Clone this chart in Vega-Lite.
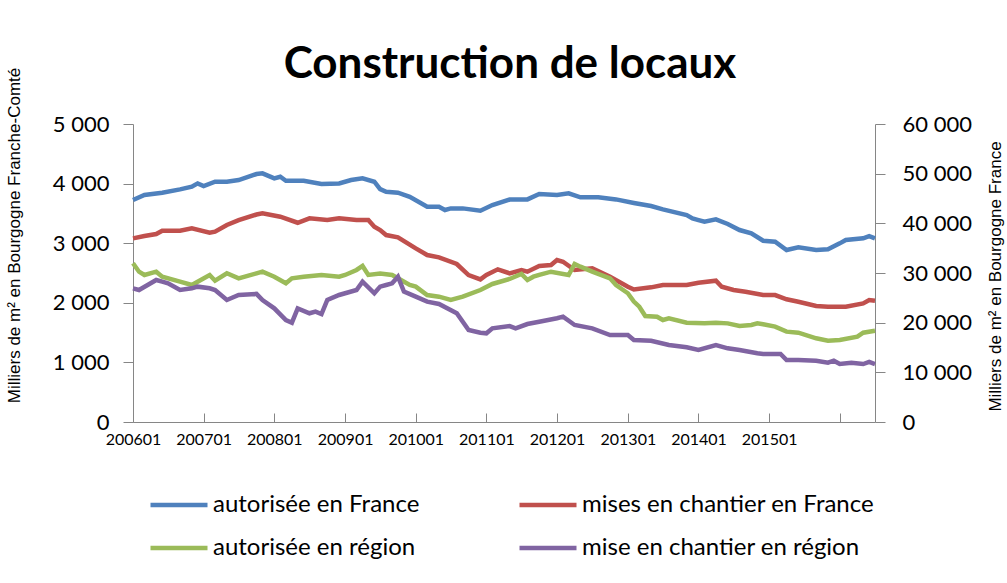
{
  "$schema": "https://vega.github.io/schema/vega-lite/v6.json",
  "width": 742,
  "height": 298,
  "autosize": {"type": "none"},
  "padding": {"left": 133, "top": 124, "right": 132, "bottom": 161},
  "background": "white",
  "title": {"text": "Construction de locaux", "font": "Lato", "fontSize": 44, "fontWeight": "bold", "color": "#000000", "anchor": "middle", "offset": 36, "dy": 56, "dx": 6},
  "config": {"view": {"stroke": null}},
  "data": {
    "format": {"parse": {"mois": "utc:'%Y-%m'"}},
    "values": [
      {"mois": "2006-01", "serie": "autorisée en France", "valeur": 44690},
      {"mois": "2006-03", "serie": "autorisée en France", "valeur": 45700},
      {"mois": "2006-06", "serie": "autorisée en France", "valeur": 46160},
      {"mois": "2006-09", "serie": "autorisée en France", "valeur": 46840},
      {"mois": "2006-11", "serie": "autorisée en France", "valeur": 47370},
      {"mois": "2006-12", "serie": "autorisée en France", "valeur": 48040},
      {"mois": "2007-01", "serie": "autorisée en France", "valeur": 47500},
      {"mois": "2007-03", "serie": "autorisée en France", "valeur": 48380},
      {"mois": "2007-05", "serie": "autorisée en France", "valeur": 48380},
      {"mois": "2007-07", "serie": "autorisée en France", "valeur": 48710},
      {"mois": "2007-10", "serie": "autorisée en France", "valeur": 49920},
      {"mois": "2007-11", "serie": "autorisée en France", "valeur": 50060},
      {"mois": "2008-01", "serie": "autorisée en France", "valeur": 49050},
      {"mois": "2008-02", "serie": "autorisée en France", "valeur": 49380},
      {"mois": "2008-03", "serie": "autorisée en France", "valeur": 48580},
      {"mois": "2008-06", "serie": "autorisée en France", "valeur": 48580},
      {"mois": "2008-09", "serie": "autorisée en France", "valeur": 47910},
      {"mois": "2008-12", "serie": "autorisée en France", "valeur": 48040},
      {"mois": "2009-02", "serie": "autorisée en France", "valeur": 48710},
      {"mois": "2009-04", "serie": "autorisée en France", "valeur": 49050},
      {"mois": "2009-06", "serie": "autorisée en France", "valeur": 48380},
      {"mois": "2009-07", "serie": "autorisée en France", "valeur": 46900},
      {"mois": "2009-08", "serie": "autorisée en France", "valeur": 46360},
      {"mois": "2009-10", "serie": "autorisée en France", "valeur": 46160},
      {"mois": "2009-12", "serie": "autorisée en France", "valeur": 45350},
      {"mois": "2010-03", "serie": "autorisée en France", "valeur": 43340},
      {"mois": "2010-05", "serie": "autorisée en France", "valeur": 43340},
      {"mois": "2010-06", "serie": "autorisée en France", "valeur": 42680},
      {"mois": "2010-07", "serie": "autorisée en France", "valeur": 43010},
      {"mois": "2010-09", "serie": "autorisée en France", "valeur": 43010},
      {"mois": "2010-12", "serie": "autorisée en France", "valeur": 42540},
      {"mois": "2011-02", "serie": "autorisée en France", "valeur": 43680},
      {"mois": "2011-05", "serie": "autorisée en France", "valeur": 44800},
      {"mois": "2011-08", "serie": "autorisée en France", "valeur": 44820},
      {"mois": "2011-10", "serie": "autorisée en France", "valeur": 45900},
      {"mois": "2012-01", "serie": "autorisée en France", "valeur": 45700},
      {"mois": "2012-03", "serie": "autorisée en France", "valeur": 46030},
      {"mois": "2012-05", "serie": "autorisée en France", "valeur": 45230},
      {"mois": "2012-08", "serie": "autorisée en France", "valeur": 45230},
      {"mois": "2012-11", "serie": "autorisée en France", "valeur": 44820},
      {"mois": "2013-02", "serie": "autorisée en France", "valeur": 44100},
      {"mois": "2013-05", "serie": "autorisée en France", "valeur": 43480},
      {"mois": "2013-07", "serie": "autorisée en France", "valeur": 42810},
      {"mois": "2013-11", "serie": "autorisée en France", "valeur": 41670},
      {"mois": "2013-12", "serie": "autorisée en France", "valeur": 41000},
      {"mois": "2014-01", "serie": "autorisée en France", "valeur": 40660},
      {"mois": "2014-02", "serie": "autorisée en France", "valeur": 40320},
      {"mois": "2014-04", "serie": "autorisée en France", "valeur": 40800},
      {"mois": "2014-06", "serie": "autorisée en France", "valeur": 39860},
      {"mois": "2014-08", "serie": "autorisée en France", "valeur": 38650},
      {"mois": "2014-10", "serie": "autorisée en France", "valeur": 37980},
      {"mois": "2014-12", "serie": "autorisée en France", "valeur": 36500},
      {"mois": "2015-02", "serie": "autorisée en France", "valeur": 36300},
      {"mois": "2015-04", "serie": "autorisée en France", "valeur": 34620},
      {"mois": "2015-06", "serie": "autorisée en France", "valeur": 35160},
      {"mois": "2015-09", "serie": "autorisée en France", "valeur": 34620},
      {"mois": "2015-11", "serie": "autorisée en France", "valeur": 34760},
      {"mois": "2016-01", "serie": "autorisée en France", "valeur": 35970},
      {"mois": "2016-02", "serie": "autorisée en France", "valeur": 36640},
      {"mois": "2016-05", "serie": "autorisée en France", "valeur": 36980},
      {"mois": "2016-06", "serie": "autorisée en France", "valeur": 37440},
      {"mois": "2016-07", "serie": "autorisée en France", "valeur": 36980},

      {"mois": "2006-01", "serie": "mises en chantier en France", "valeur": 36980},
      {"mois": "2006-03", "serie": "mises en chantier en France", "valeur": 37440},
      {"mois": "2006-05", "serie": "mises en chantier en France", "valeur": 37840},
      {"mois": "2006-06", "serie": "mises en chantier en France", "valeur": 38510},
      {"mois": "2006-09", "serie": "mises en chantier en France", "valeur": 38510},
      {"mois": "2006-11", "serie": "mises en chantier en France", "valeur": 38990},
      {"mois": "2007-02", "serie": "mises en chantier en France", "valeur": 38110},
      {"mois": "2007-03", "serie": "mises en chantier en France", "valeur": 38310},
      {"mois": "2007-05", "serie": "mises en chantier en France", "valeur": 39660},
      {"mois": "2007-07", "serie": "mises en chantier en France", "valeur": 40660},
      {"mois": "2007-10", "serie": "mises en chantier en France", "valeur": 41770},
      {"mois": "2007-11", "serie": "mises en chantier en France", "valeur": 42010},
      {"mois": "2008-02", "serie": "mises en chantier en France", "valeur": 41330},
      {"mois": "2008-05", "serie": "mises en chantier en France", "valeur": 40120},
      {"mois": "2008-07", "serie": "mises en chantier en France", "valeur": 41000},
      {"mois": "2008-10", "serie": "mises en chantier en France", "valeur": 40660},
      {"mois": "2008-12", "serie": "mises en chantier en France", "valeur": 41000},
      {"mois": "2009-03", "serie": "mises en chantier en France", "valeur": 40660},
      {"mois": "2009-05", "serie": "mises en chantier en France", "valeur": 40660},
      {"mois": "2009-06", "serie": "mises en chantier en France", "valeur": 39320},
      {"mois": "2009-07", "serie": "mises en chantier en France", "valeur": 38650},
      {"mois": "2009-08", "serie": "mises en chantier en France", "valeur": 37640},
      {"mois": "2009-10", "serie": "mises en chantier en France", "valeur": 37180},
      {"mois": "2010-01", "serie": "mises en chantier en France", "valeur": 34960},
      {"mois": "2010-03", "serie": "mises en chantier en France", "valeur": 33620},
      {"mois": "2010-05", "serie": "mises en chantier en France", "valeur": 33150},
      {"mois": "2010-08", "serie": "mises en chantier en France", "valeur": 31810},
      {"mois": "2010-10", "serie": "mises en chantier en France", "valeur": 29590},
      {"mois": "2010-12", "serie": "mises en chantier en France", "valeur": 28720},
      {"mois": "2011-01", "serie": "mises en chantier en France", "valeur": 29590},
      {"mois": "2011-03", "serie": "mises en chantier en France", "valeur": 30740},
      {"mois": "2011-05", "serie": "mises en chantier en France", "valeur": 29930},
      {"mois": "2011-07", "serie": "mises en chantier en France", "valeur": 30600},
      {"mois": "2011-08", "serie": "mises en chantier en France", "valeur": 30260},
      {"mois": "2011-10", "serie": "mises en chantier en France", "valeur": 31400},
      {"mois": "2011-12", "serie": "mises en chantier en France", "valeur": 31600},
      {"mois": "2012-01", "serie": "mises en chantier en France", "valeur": 32610},
      {"mois": "2012-02", "serie": "mises en chantier en France", "valeur": 32270},
      {"mois": "2012-04", "serie": "mises en chantier en France", "valeur": 30600},
      {"mois": "2012-07", "serie": "mises en chantier en France", "valeur": 30940},
      {"mois": "2012-10", "serie": "mises en chantier en France", "valeur": 29250},
      {"mois": "2013-01", "serie": "mises en chantier en France", "valeur": 27240},
      {"mois": "2013-02", "serie": "mises en chantier en France", "valeur": 26670},
      {"mois": "2013-05", "serie": "mises en chantier en France", "valeur": 27110},
      {"mois": "2013-07", "serie": "mises en chantier en France", "valeur": 27580},
      {"mois": "2013-11", "serie": "mises en chantier en France", "valeur": 27580},
      {"mois": "2014-01", "serie": "mises en chantier en France", "valeur": 28050},
      {"mois": "2014-04", "serie": "mises en chantier en France", "valeur": 28450},
      {"mois": "2014-05", "serie": "mises en chantier en France", "valeur": 27240},
      {"mois": "2014-07", "serie": "mises en chantier en France", "valeur": 26570},
      {"mois": "2014-09", "serie": "mises en chantier en France", "valeur": 26230},
      {"mois": "2014-12", "serie": "mises en chantier en France", "valeur": 25560},
      {"mois": "2015-02", "serie": "mises en chantier en France", "valeur": 25560},
      {"mois": "2015-04", "serie": "mises en chantier en France", "valeur": 24700},
      {"mois": "2015-06", "serie": "mises en chantier en France", "valeur": 24220},
      {"mois": "2015-09", "serie": "mises en chantier en France", "valeur": 23350},
      {"mois": "2015-11", "serie": "mises en chantier en France", "valeur": 23210},
      {"mois": "2016-02", "serie": "mises en chantier en France", "valeur": 23210},
      {"mois": "2016-05", "serie": "mises en chantier en France", "valeur": 23890},
      {"mois": "2016-06", "serie": "mises en chantier en France", "valeur": 24560},
      {"mois": "2016-07", "serie": "mises en chantier en France", "valeur": 24420},

      {"mois": "2006-01", "serie": "autorisée en région", "valeur": 2663},
      {"mois": "2006-02", "serie": "autorisée en région", "valeur": 2522},
      {"mois": "2006-03", "serie": "autorisée en région", "valeur": 2467},
      {"mois": "2006-05", "serie": "autorisée en région", "valeur": 2522},
      {"mois": "2006-06", "serie": "autorisée en région", "valeur": 2438},
      {"mois": "2006-09", "serie": "autorisée en région", "valeur": 2354},
      {"mois": "2006-11", "serie": "autorisée en région", "valeur": 2299},
      {"mois": "2006-12", "serie": "autorisée en région", "valeur": 2354},
      {"mois": "2007-02", "serie": "autorisée en région", "valeur": 2467},
      {"mois": "2007-03", "serie": "autorisée en région", "valeur": 2371},
      {"mois": "2007-05", "serie": "autorisée en région", "valeur": 2495},
      {"mois": "2007-07", "serie": "autorisée en région", "valeur": 2411},
      {"mois": "2007-10", "serie": "autorisée en région", "valeur": 2495},
      {"mois": "2007-11", "serie": "autorisée en région", "valeur": 2522},
      {"mois": "2008-01", "serie": "autorisée en région", "valeur": 2438},
      {"mois": "2008-03", "serie": "autorisée en région", "valeur": 2327},
      {"mois": "2008-04", "serie": "autorisée en région", "valeur": 2411},
      {"mois": "2008-06", "serie": "autorisée en région", "valeur": 2438},
      {"mois": "2008-09", "serie": "autorisée en région", "valeur": 2467},
      {"mois": "2008-12", "serie": "autorisée en région", "valeur": 2438},
      {"mois": "2009-01", "serie": "autorisée en région", "valeur": 2467},
      {"mois": "2009-03", "serie": "autorisée en région", "valeur": 2551},
      {"mois": "2009-04", "serie": "autorisée en région", "valeur": 2618},
      {"mois": "2009-05", "serie": "autorisée en région", "valeur": 2467},
      {"mois": "2009-07", "serie": "autorisée en région", "valeur": 2490},
      {"mois": "2009-09", "serie": "autorisée en région", "valeur": 2467},
      {"mois": "2009-12", "serie": "autorisée en région", "valeur": 2299},
      {"mois": "2010-01", "serie": "autorisée en région", "valeur": 2271},
      {"mois": "2010-03", "serie": "autorisée en région", "valeur": 2131},
      {"mois": "2010-05", "serie": "autorisée en région", "valeur": 2103},
      {"mois": "2010-07", "serie": "autorisée en région", "valeur": 2047},
      {"mois": "2010-09", "serie": "autorisée en région", "valeur": 2103},
      {"mois": "2010-12", "serie": "autorisée en région", "valeur": 2215},
      {"mois": "2011-02", "serie": "autorisée en région", "valeur": 2316},
      {"mois": "2011-05", "serie": "autorisée en région", "valeur": 2400},
      {"mois": "2011-07", "serie": "autorisée en région", "valeur": 2483},
      {"mois": "2011-08", "serie": "autorisée en région", "valeur": 2383},
      {"mois": "2011-09", "serie": "autorisée en région", "valeur": 2438},
      {"mois": "2011-10", "serie": "autorisée en région", "valeur": 2467},
      {"mois": "2011-12", "serie": "autorisée en région", "valeur": 2522},
      {"mois": "2012-03", "serie": "autorisée en région", "valeur": 2467},
      {"mois": "2012-04", "serie": "autorisée en région", "valeur": 2651},
      {"mois": "2012-05", "serie": "autorisée en région", "valeur": 2606},
      {"mois": "2012-07", "serie": "autorisée en région", "valeur": 2522},
      {"mois": "2012-10", "serie": "autorisée en région", "valeur": 2411},
      {"mois": "2012-11", "serie": "autorisée en région", "valeur": 2299},
      {"mois": "2013-01", "serie": "autorisée en région", "valeur": 2160},
      {"mois": "2013-02", "serie": "autorisée en région", "valeur": 2020},
      {"mois": "2013-03", "serie": "autorisée en région", "valeur": 1935},
      {"mois": "2013-04", "serie": "autorisée en région", "valeur": 1779},
      {"mois": "2013-06", "serie": "autorisée en région", "valeur": 1767},
      {"mois": "2013-07", "serie": "autorisée en région", "valeur": 1711},
      {"mois": "2013-08", "serie": "autorisée en région", "valeur": 1740},
      {"mois": "2013-11", "serie": "autorisée en région", "valeur": 1666},
      {"mois": "2014-02", "serie": "autorisée en région", "valeur": 1655},
      {"mois": "2014-04", "serie": "autorisée en région", "valeur": 1666},
      {"mois": "2014-06", "serie": "autorisée en région", "valeur": 1655},
      {"mois": "2014-08", "serie": "autorisée en région", "valeur": 1611},
      {"mois": "2014-10", "serie": "autorisée en région", "valeur": 1628},
      {"mois": "2014-11", "serie": "autorisée en région", "valeur": 1655},
      {"mois": "2014-12", "serie": "autorisée en région", "valeur": 1640},
      {"mois": "2015-02", "serie": "autorisée en région", "valeur": 1600},
      {"mois": "2015-04", "serie": "autorisée en région", "valeur": 1516},
      {"mois": "2015-06", "serie": "autorisée en région", "valeur": 1499},
      {"mois": "2015-09", "serie": "autorisée en région", "valeur": 1404},
      {"mois": "2015-11", "serie": "autorisée en région", "valeur": 1364},
      {"mois": "2016-01", "serie": "autorisée en région", "valeur": 1376},
      {"mois": "2016-04", "serie": "autorisée en région", "valeur": 1432},
      {"mois": "2016-05", "serie": "autorisée en région", "valeur": 1499},
      {"mois": "2016-07", "serie": "autorisée en région", "valeur": 1532},

      {"mois": "2006-01", "serie": "mise en chantier en région", "valeur": 2243},
      {"mois": "2006-02", "serie": "mise en chantier en région", "valeur": 2215},
      {"mois": "2006-05", "serie": "mise en chantier en région", "valeur": 2383},
      {"mois": "2006-06", "serie": "mise en chantier en région", "valeur": 2354},
      {"mois": "2006-07", "serie": "mise en chantier en région", "valeur": 2327},
      {"mois": "2006-09", "serie": "mise en chantier en région", "valeur": 2215},
      {"mois": "2006-11", "serie": "mise en chantier en région", "valeur": 2243},
      {"mois": "2006-12", "serie": "mise en chantier en région", "valeur": 2271},
      {"mois": "2007-02", "serie": "mise en chantier en région", "valeur": 2243},
      {"mois": "2007-03", "serie": "mise en chantier en région", "valeur": 2215},
      {"mois": "2007-05", "serie": "mise en chantier en région", "valeur": 2047},
      {"mois": "2007-07", "serie": "mise en chantier en région", "valeur": 2131},
      {"mois": "2007-10", "serie": "mise en chantier en région", "valeur": 2150},
      {"mois": "2007-11", "serie": "mise en chantier en région", "valeur": 2047},
      {"mois": "2008-01", "serie": "mise en chantier en région", "valeur": 1907},
      {"mois": "2008-03", "serie": "mise en chantier en région", "valeur": 1711},
      {"mois": "2008-04", "serie": "mise en chantier en région", "valeur": 1666},
      {"mois": "2008-05", "serie": "mise en chantier en région", "valeur": 1907},
      {"mois": "2008-07", "serie": "mise en chantier en région", "valeur": 1824},
      {"mois": "2008-08", "serie": "mise en chantier en région", "valeur": 1851},
      {"mois": "2008-09", "serie": "mise en chantier en région", "valeur": 1812},
      {"mois": "2008-10", "serie": "mise en chantier en région", "valeur": 2047},
      {"mois": "2008-12", "serie": "mise en chantier en région", "valeur": 2131},
      {"mois": "2009-03", "serie": "mise en chantier en région", "valeur": 2215},
      {"mois": "2009-04", "serie": "mise en chantier en région", "valeur": 2354},
      {"mois": "2009-06", "serie": "mise en chantier en région", "valeur": 2159},
      {"mois": "2009-07", "serie": "mise en chantier en région", "valeur": 2271},
      {"mois": "2009-08", "serie": "mise en chantier en région", "valeur": 2299},
      {"mois": "2009-09", "serie": "mise en chantier en région", "valeur": 2327},
      {"mois": "2009-10", "serie": "mise en chantier en région", "valeur": 2438},
      {"mois": "2009-11", "serie": "mise en chantier en région", "valeur": 2187},
      {"mois": "2010-01", "serie": "mise en chantier en région", "valeur": 2103},
      {"mois": "2010-03", "serie": "mise en chantier en région", "valeur": 2019},
      {"mois": "2010-05", "serie": "mise en chantier en région", "valeur": 1980},
      {"mois": "2010-08", "serie": "mise en chantier en région", "valeur": 1824},
      {"mois": "2010-10", "serie": "mise en chantier en région", "valeur": 1544},
      {"mois": "2010-12", "serie": "mise en chantier en région", "valeur": 1499},
      {"mois": "2011-01", "serie": "mise en chantier en région", "valeur": 1488},
      {"mois": "2011-02", "serie": "mise en chantier en région", "valeur": 1572},
      {"mois": "2011-05", "serie": "mise en chantier en région", "valeur": 1610},
      {"mois": "2011-06", "serie": "mise en chantier en région", "valeur": 1572},
      {"mois": "2011-08", "serie": "mise en chantier en région", "valeur": 1644},
      {"mois": "2011-10", "serie": "mise en chantier en région", "valeur": 1683},
      {"mois": "2012-01", "serie": "mise en chantier en région", "valeur": 1740},
      {"mois": "2012-02", "serie": "mise en chantier en région", "valeur": 1767},
      {"mois": "2012-04", "serie": "mise en chantier en région", "valeur": 1628},
      {"mois": "2012-07", "serie": "mise en chantier en région", "valeur": 1572},
      {"mois": "2012-10", "serie": "mise en chantier en région", "valeur": 1460},
      {"mois": "2013-01", "serie": "mise en chantier en région", "valeur": 1460},
      {"mois": "2013-02", "serie": "mise en chantier en région", "valeur": 1376},
      {"mois": "2013-05", "serie": "mise en chantier en région", "valeur": 1364},
      {"mois": "2013-08", "serie": "mise en chantier en région", "valeur": 1292},
      {"mois": "2013-11", "serie": "mise en chantier en région", "valeur": 1253},
      {"mois": "2014-01", "serie": "mise en chantier en région", "valeur": 1208},
      {"mois": "2014-04", "serie": "mise en chantier en région", "valeur": 1292},
      {"mois": "2014-06", "serie": "mise en chantier en région", "valeur": 1236},
      {"mois": "2014-08", "serie": "mise en chantier en région", "valeur": 1208},
      {"mois": "2014-11", "serie": "mise en chantier en région", "valeur": 1153},
      {"mois": "2014-12", "serie": "mise en chantier en région", "valeur": 1140},
      {"mois": "2015-03", "serie": "mise en chantier en région", "valeur": 1141},
      {"mois": "2015-04", "serie": "mise en chantier en région", "valeur": 1040},
      {"mois": "2015-06", "serie": "mise en chantier en région", "valeur": 1040},
      {"mois": "2015-09", "serie": "mise en chantier en région", "valeur": 1029},
      {"mois": "2015-11", "serie": "mise en chantier en région", "valeur": 995},
      {"mois": "2015-12", "serie": "mise en chantier en région", "valeur": 1029},
      {"mois": "2016-01", "serie": "mise en chantier en région", "valeur": 973},
      {"mois": "2016-03", "serie": "mise en chantier en région", "valeur": 995},
      {"mois": "2016-05", "serie": "mise en chantier en région", "valeur": 973},
      {"mois": "2016-06", "serie": "mise en chantier en région", "valeur": 1007},
      {"mois": "2016-07", "serie": "mise en chantier en région", "valeur": 973}
    ]
  },
  "encoding": {
    "x": {
      "field": "mois",
      "type": "temporal",
      "title": null,
      "scale": {"type": "utc", "nice": false, "domain": [{"year": 2006, "month": 1, "date": 1, "utc": true}, {"year": 2016, "month": 7, "date": 1, "utc": true}]},
      "axis": {
        "values": [
          {"year": 2006, "month": 1, "date": 1, "utc": true},
          {"year": 2007, "month": 1, "date": 1, "utc": true},
          {"year": 2008, "month": 1, "date": 1, "utc": true},
          {"year": 2009, "month": 1, "date": 1, "utc": true},
          {"year": 2010, "month": 1, "date": 1, "utc": true},
          {"year": 2011, "month": 1, "date": 1, "utc": true},
          {"year": 2012, "month": 1, "date": 1, "utc": true},
          {"year": 2013, "month": 1, "date": 1, "utc": true},
          {"year": 2014, "month": 1, "date": 1, "utc": true},
          {"year": 2015, "month": 1, "date": 1, "utc": true},
          {"year": 2016, "month": 1, "date": 1, "utc": true}
        ],
        "labelExpr": "utcyear(datum.value) < 2016 ? utcFormat(datum.value, '%Y%m') : ''",
        "grid": false,
        "domainColor": "#868686",
        "tickColor": "#868686",
        "tickSize": -9,
        "labelPadding": 18,
        "labelFont": "Lato",
        "labelFontSize": 16,
        "labelColor": "#000000",
        "labelFlush": false,
        "labelOverlap": false
      }
    },
    "color": {
      "field": "serie",
      "type": "nominal",
      "scale": {
        "domain": ["autorisée en France", "mises en chantier en France", "autorisée en région", "mise en chantier en région"],
        "range": ["#4F81BD", "#C0504D", "#9BBB59", "#8064A2"]
      },
      "legend": {
        "title": null,
        "orient": "none",
        "direction": "horizontal",
        "legendX": 15,
        "legendY": 350,
        "columns": 2,
        "symbolType": "stroke",
        "symbolSize": 3249,
        "symbolStrokeWidth": 4.5,
        "labelFont": "Lato",
        "labelFontSize": 24,
        "labelColor": "#000000",
        "labelOffset": 3,
        "labelLimit": 400,
        "columnPadding": 90,
        "rowPadding": -5,
        "padding": 0
      }
    }
  },
  "layer": [
    {
      "transform": [{"filter": {"field": "serie", "oneOf": ["autorisée en France", "mises en chantier en France"]}}],
      "mark": {"type": "line", "strokeWidth": 4.5},
      "encoding": {
        "y": {
          "field": "valeur",
          "type": "quantitative",
          "scale": {"domain": [0, 60000], "nice": false},
          "axis": {
            "orient": "right",
            "values": [0, 10000, 20000, 30000, 40000, 50000, 60000],
            "labelExpr": "datum.value == 0 ? '0' : format(datum.value / 1000, 'd') + ' 000'",
            "grid": false,
            "domainColor": "#868686",
            "tickColor": "#868686",
            "tickSize": 10,
            "labelPadding": 17,
            "labelFont": "Lato",
            "labelFontSize": 22,
            "labelColor": "#000000",
            "labelFlush": false,
            "title": "Milliers de m² en Bourgogne France",
            "titleFont": "Liberation Sans",
            "titleFontSize": 17,
            "titleFontWeight": "normal",
            "titleColor": "#000000",
            "titleAngle": -90,
            "titleAlign": "center",
            "titleBaseline": "middle",
            "titleX": 120,
            "titleY": 152
          }
        }
      }
    },
    {
      "transform": [{"filter": {"field": "serie", "oneOf": ["autorisée en région", "mise en chantier en région"]}}],
      "mark": {"type": "line", "strokeWidth": 4.5},
      "encoding": {
        "y": {
          "field": "valeur",
          "type": "quantitative",
          "scale": {"domain": [0, 5000], "nice": false},
          "axis": {
            "orient": "left",
            "values": [0, 1000, 2000, 3000, 4000, 5000],
            "labelExpr": "datum.value == 0 ? '0' : format(datum.value / 1000, 'd') + ' 000'",
            "grid": false,
            "domainColor": "#868686",
            "tickColor": "#868686",
            "tickSize": 10,
            "labelPadding": 14,
            "labelFont": "Lato",
            "labelFontSize": 22,
            "labelColor": "#000000",
            "labelFlush": false,
            "title": "Milliers de m² en Bourgogne Franche-Comté",
            "titleFont": "Liberation Sans",
            "titleFontSize": 17,
            "titleFontWeight": "normal",
            "titleColor": "#000000",
            "titleAngle": -90,
            "titleAlign": "center",
            "titleBaseline": "middle",
            "titleX": -119,
            "titleY": 111
          }
        }
      }
    }
  ],
  "resolve": {"scale": {"y": "independent"}}
}
